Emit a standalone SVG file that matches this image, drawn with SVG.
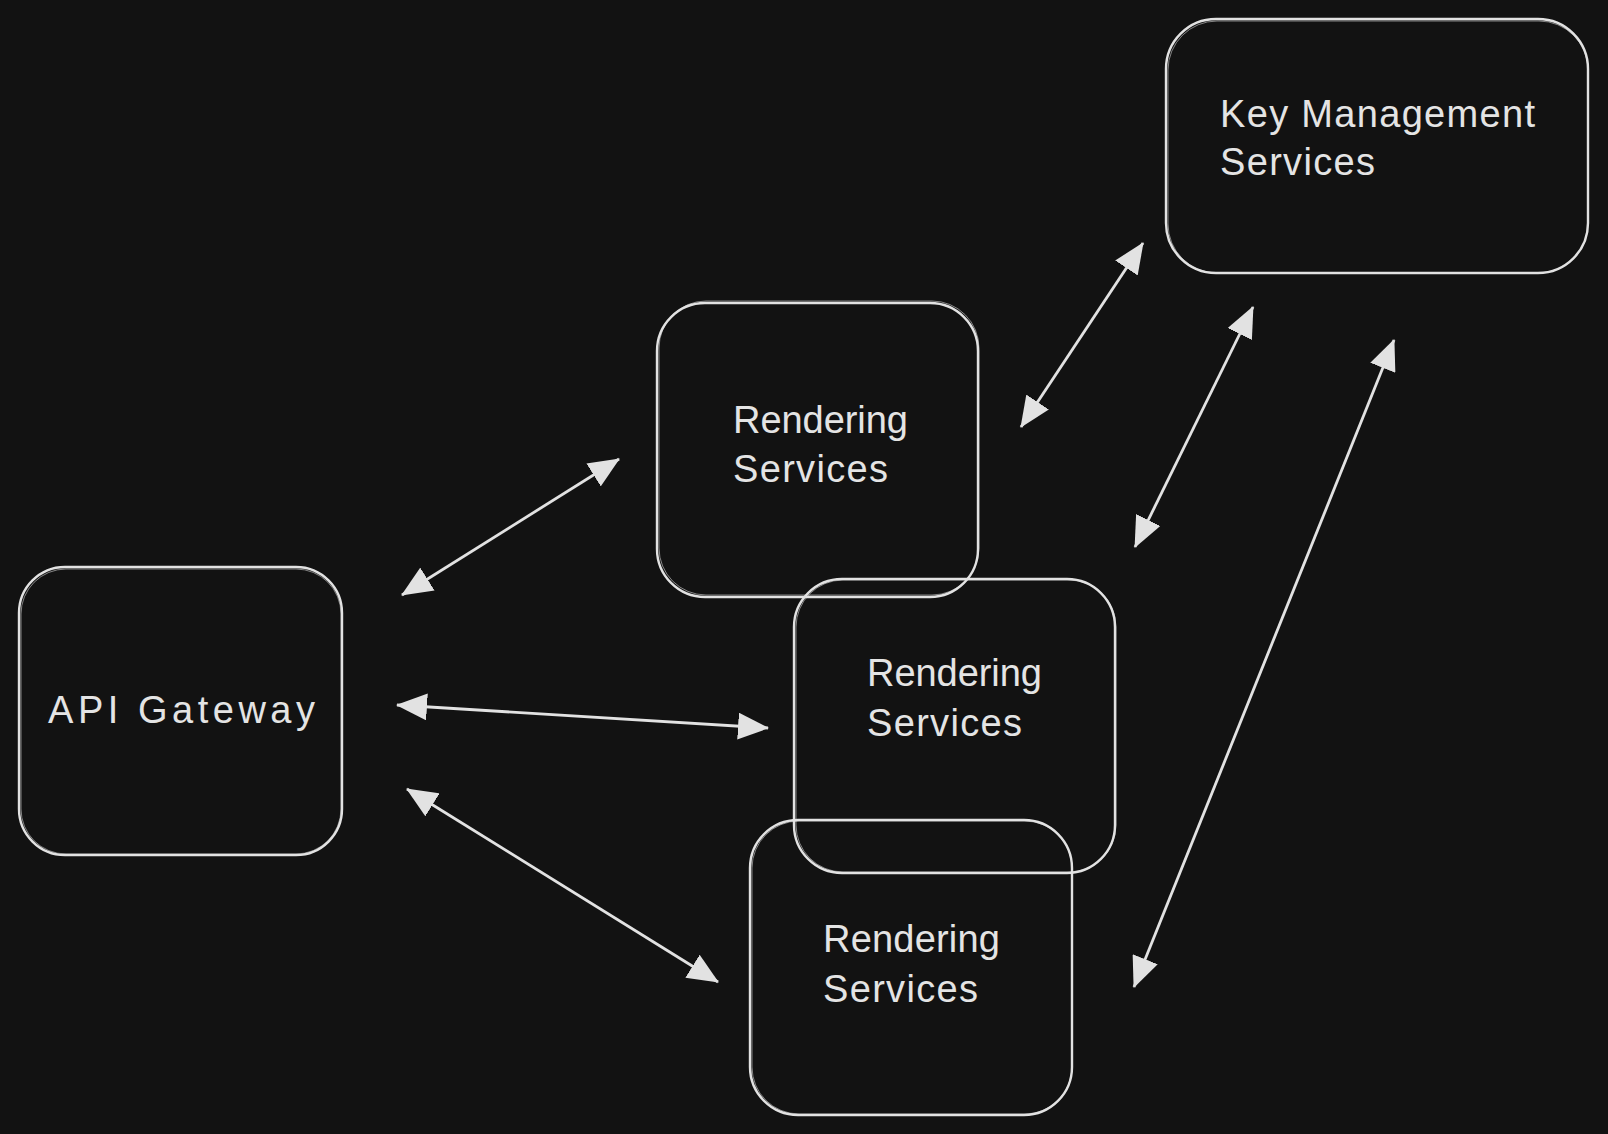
<svg xmlns="http://www.w3.org/2000/svg" width="1608" height="1134" viewBox="0 0 1608 1134">
<style>
.box{fill:none;stroke:#e2e2e2;stroke-width:2.4}
.box2{fill:none;stroke:#e2e2e2;stroke-width:1;opacity:0.55}
.lbl{font-family:"Liberation Sans","Noto Sans",sans-serif;font-size:38px;fill:#e4e4e4}
.con{stroke:#e2e2e2;stroke-width:2.8;fill:none}
</style>
<defs>
<marker id="ah" viewBox="0 0 31 27" refX="30" refY="13.5" markerWidth="31" markerHeight="27" markerUnits="userSpaceOnUse" orient="auto-start-reverse">
<path d="M0,0 L31,13.5 L0,27 Z" fill="#e2e2e2"/>
</marker>
</defs>
<rect width="1608" height="1134" fill="#121212"/>
<g id="api-gateway">
<rect class="box" x="19" y="567" width="323" height="288" rx="46"/>
<rect class="box2" x="21" y="569" width="320" height="285" rx="45"/>
<text class="lbl" x="48" y="723" textLength="267" lengthAdjust="spacing">API Gateway</text>
</g>
<g id="rendering-1">
<rect class="box" x="657" y="303" width="321" height="294" rx="48"/>
<rect class="box2" x="659" y="301" width="320" height="294" rx="47"/>
<text class="lbl" x="733" y="433" textLength="175" lengthAdjust="spacing">Rendering</text>
<text class="lbl" x="733" y="482" textLength="155" lengthAdjust="spacing">Services</text>
</g>
<g id="rendering-2">
<rect class="box" x="794" y="579" width="321" height="294" rx="48"/>
<rect class="box2" x="796" y="580" width="320" height="292" rx="47"/>
<text class="lbl" x="867" y="686" textLength="175" lengthAdjust="spacing">Rendering</text>
<text class="lbl" x="867" y="736" textLength="155" lengthAdjust="spacing">Services</text>
</g>
<g id="rendering-3">
<rect class="box" x="750" y="820" width="322" height="295" rx="48"/>
<rect class="box2" x="752" y="821" width="320" height="293" rx="47"/>
<text class="lbl" x="823" y="952" textLength="177" lengthAdjust="spacing">Rendering</text>
<text class="lbl" x="823" y="1002" textLength="155" lengthAdjust="spacing">Services</text>
</g>
<g id="key-management">
<rect class="box" x="1166" y="19" width="422" height="254" rx="50"/>
<rect class="box2" x="1168" y="21" width="420" height="252" rx="49"/>
<text class="lbl" x="1220" y="127" textLength="315" lengthAdjust="spacing">Key Management</text>
<text class="lbl" x="1220" y="175" textLength="155" lengthAdjust="spacing">Services</text>
</g>
<g id="connectors">
<line class="con" x1="402" y1="595" x2="619" y2="459" marker-start="url(#ah)" marker-end="url(#ah)"/>
<line class="con" x1="397" y1="705" x2="768" y2="728" marker-start="url(#ah)" marker-end="url(#ah)"/>
<line class="con" x1="407" y1="789" x2="718" y2="982" marker-start="url(#ah)" marker-end="url(#ah)"/>
<line class="con" x1="1021" y1="427" x2="1143" y2="243" marker-start="url(#ah)" marker-end="url(#ah)"/>
<line class="con" x1="1135" y1="547" x2="1253" y2="307" marker-start="url(#ah)" marker-end="url(#ah)"/>
<line class="con" x1="1134" y1="987" x2="1394" y2="340" marker-start="url(#ah)" marker-end="url(#ah)"/>
</g>
</svg>
